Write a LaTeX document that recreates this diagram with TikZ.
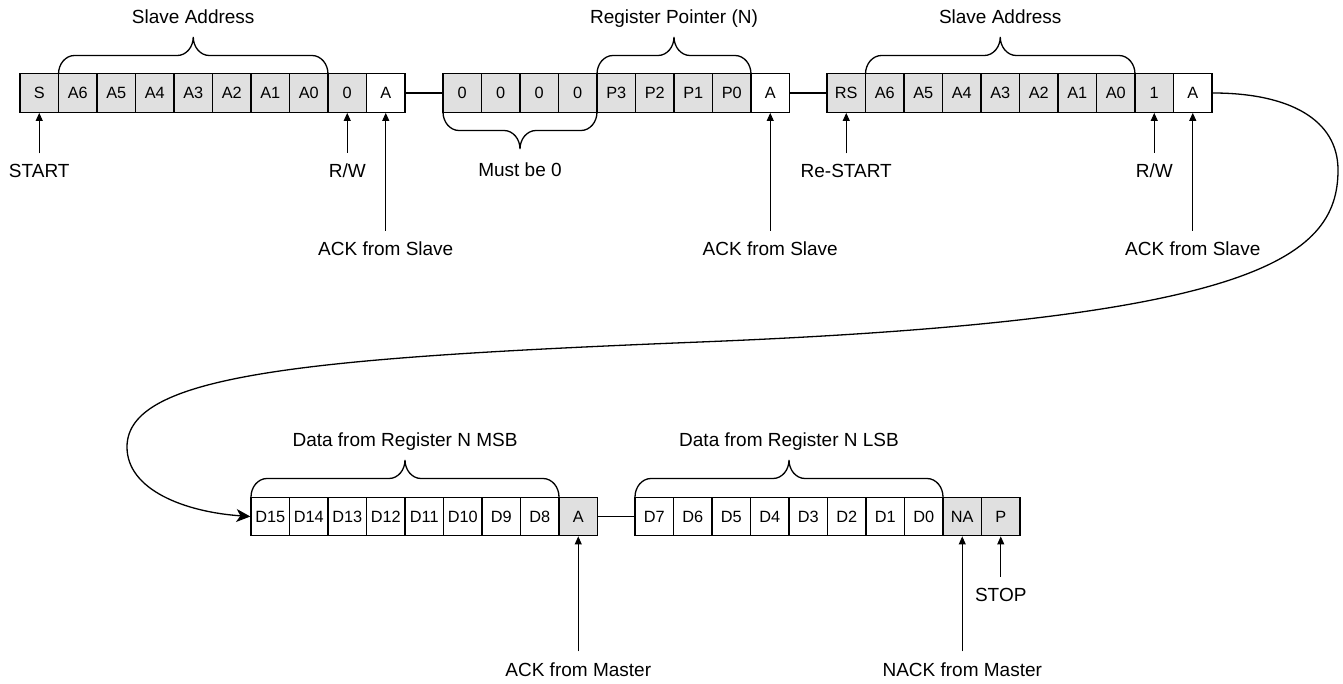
\documentclass[tikz,border=0pt]{standalone}
\usepackage{fontspec}
\setmainfont{Liberation Sans}
\usetikzlibrary{arrows.meta}
\definecolor{cg}{RGB}{224,224,224}
\newcommand\cellfnt{\fontsize{16.3}{18}\selectfont}
\newcommand\lblfnt{\fontsize{19}{22}\selectfont}
\newcommand\bracedraw[4]{%
 \pgfmathsetmacro\bxm{(#1+#2)/2}%
 \pgfmathsetmacro\bya{#3+#4*10}%
 \pgfmathsetmacro\byh{#3+#4*18.5}%
 \pgfmathsetmacro\byb{#3+#4*27}%
 \pgfmathsetmacro\byt{#3+#4*37}%
 \pgfmathsetmacro\bxa{#1+7}\pgfmathsetmacro\bxb{#1+16}%
 \pgfmathsetmacro\bxc{\bxm-16}\pgfmathsetmacro\bxd{\bxm-7}%
 \pgfmathsetmacro\bxe{\bxm+7}\pgfmathsetmacro\bxf{\bxm+16}%
 \pgfmathsetmacro\bxg{#2-16}\pgfmathsetmacro\bxh{#2-7}%
 \draw[bracel] (#1,#3) .. controls (#1,\bya) and (\bxa,\byh) .. (\bxb,\byh) -- (\bxc,\byh) .. controls (\bxd,\byh) and (\bxm,\byb) .. (\bxm,\byt) .. controls (\bxm,\byb) and (\bxe,\byh) .. (\bxf,\byh) -- (\bxg,\byh) .. controls (\bxh,\byh) and (#2,\bya) .. (#2,#3);%
}
\begin{document}
\begin{tikzpicture}[x=1pt,y=1pt,
 cell/.style={draw=black, line width=1.3pt, minimum width=38.5pt, minimum height=38.5pt, inner sep=0pt, font=\cellfnt, text height=11.7pt, text depth=0pt},
 conn/.style={line width=1.3pt},
 lbl/.style={font=\lblfnt, inner sep=0pt, anchor=base},
 arr/.style={line width=0.9pt, -{Triangle[length=8pt,width=7pt]}, shorten <=11pt},
 bracel/.style={line width=1.3pt},
 curvearr/.style={line width=1.3pt, -{Stealth[length=14pt,width=13pt,inset=4pt]}}]
\useasboundingbox (0,0) rectangle (1343,-684);

% top row cells
\foreach \t/\f [count=\i] in {S/cg,A6/cg,A5/cg,A4/cg,A3/cg,A2/cg,A1/cg,A0/cg,0/cg,A/white}
  \node[cell,fill=\f] (g1c\i) at ({20+38.5*(\i-0.5)},-93) {\t};
\foreach \t/\f [count=\i] in {0/cg,0/cg,0/cg,0/cg,P3/cg,P2/cg,P1/cg,P0/cg,A/white}
  \node[cell,fill=\f] (g2c\i) at ({443+38.5*(\i-0.5)},-93) {\t};
\foreach \t/\f [count=\i] in {RS/cg,A6/cg,A5/cg,A4/cg,A3/cg,A2/cg,A1/cg,A0/cg,1/cg,A/white}
  \node[cell,fill=\f] (g3c\i) at ({827+38.5*(\i-0.5)},-93) {\t};
% bottom row cells
\foreach \t/\f [count=\i] in {D15/white,D14/white,D13/white,D12/white,D11/white,D10/white,D9/white,D8/white,A/cg}
  \node[cell,fill=\f] (g4c\i) at ({251+38.5*(\i-0.5)},-516.5) {\t};
\foreach \t/\f [count=\i] in {D7/white,D6/white,D5/white,D4/white,D3/white,D2/white,D1/white,D0/white,NA/cg,P/cg}
  \node[cell,fill=\f] (g5c\i) at ({635+38.5*(\i-0.5)},-516.5) {\t};

% connectors between groups
\draw[conn] (g1c10.east) -- (g2c1.west);
\draw[conn] (g2c9.east) -- (g3c1.west);
\draw[conn] (g4c9.east) -- (g5c1.west);

% braces
\bracedraw{58.5}{328}{-74}{1}
\bracedraw{597}{751}{-74}{1}
\bracedraw{443}{597}{-112}{-1}
\bracedraw{865.5}{1135}{-74}{1}
\bracedraw{251}{559}{-497}{1}
\bracedraw{635}{943}{-497}{1}

% brace labels
\node[lbl] (tsa1) at (193.25,-24) {Slave Address};
\node[lbl] (trp) at (674,-24) {Register Pointer (N)};
\node[lbl] (tsa2) at (1000.25,-24) {Slave Address};
\node[lbl] (tmb0) at (520,-177) {Must be 0};
\node[lbl] (tmsb) at (405,-446) {Data from Register N MSB};
\node[lbl] (tlsb) at (789,-446) {Data from Register N LSB};

% pointer labels
\path (g1c1.south) ++(0,-65) node[lbl] (lstart) {START};
\path (g1c9.south) ++(0,-65) node[lbl] (lrw1) {R/W};
\path (g1c10.south) ++(0,-143) node[lbl] (lack1) {ACK from Slave};
\path (g2c9.south) ++(0,-143) node[lbl] (lack2) {ACK from Slave};
\path (g3c1.south) ++(0,-65) node[lbl] (lrs) {Re-START};
\path (g3c9.south) ++(0,-65) node[lbl] (lrw2) {R/W};
\path (g3c10.south) ++(0,-143) node[lbl] (lack3) {ACK from Slave};
\path (g4c9.south) ++(0,-140) node[lbl] (lackm) {ACK from Master};
\path (g5c9.south) ++(0,-140) node[lbl] (lnack) {NACK from Master};
\path (g5c10.south) ++(0,-65) node[lbl] (lstop) {STOP};

\draw[arr] (lstart) -- (g1c1);
\draw[arr] (lrw1) -- (g1c9);
\draw[arr] (lack1) -- (g1c10);
\draw[arr] (lack2) -- (g2c9);
\draw[arr] (lrs) -- (g3c1);
\draw[arr] (lrw2) -- (g3c9);
\draw[arr] (lack3) -- (g3c10);
\draw[arr] (lackm) -- (g4c9);
\draw[arr] (lnack) -- (g5c9);
\draw[arr] (lstop) -- (g5c10);

% long curved connector
\draw[curvearr] (g3c10.east) .. controls (1290,-93) and (1338,-120) .. (1338,-170)
  .. controls (1338,-260) and (1250,-320) .. (700,-342)
  .. controls (300,-358) and (127,-375) .. (127,-447)
  .. controls (127,-490) and (185,-512) .. (g4c1.west);
\end{tikzpicture}
\end{document}
